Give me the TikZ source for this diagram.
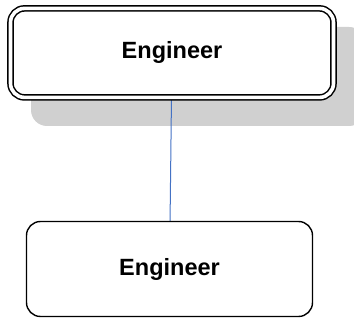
\documentclass[tikz,border=0pt]{standalone}
\usepackage{fontspec}
\setmainfont{Liberation Sans}
\usetikzlibrary{backgrounds}

\definecolor{linkblue}{RGB}{68,114,196}
\definecolor{shadowgray}{RGB}{208,208,208}

\begin{document}
\begin{tikzpicture}[x=1pt, y=-1pt,
		box/.style={draw, fill=white, rounded corners=14pt, line width=1.4pt,
			font=\fontsize{23.5}{26}\selectfont\bfseries, inner sep=0pt},
		topbox/.style={box, double=white, double distance=3.6pt, line width=1.5pt,
			minimum width=323pt, minimum height=89pt},
		lowbox/.style={box, minimum width=286pt, minimum height=95pt}]
			\useasboundingbox (0, 0) rectangle (354, 320);
			\node[topbox] (eng1) at (172, 52.9) {Engineer};
			\node[lowbox] (eng2) at (169.5, 269) {Engineer};
			\begin{scope}[on background layer]
				% shadow under the top box
				\fill[shadowgray, rounded corners=16pt] (31, 27) rectangle (365, 126);
				\draw[linkblue, line width=1pt] (eng1.center) -- (eng2.center);
			\end{scope}
		\end{tikzpicture}
\end{document}
